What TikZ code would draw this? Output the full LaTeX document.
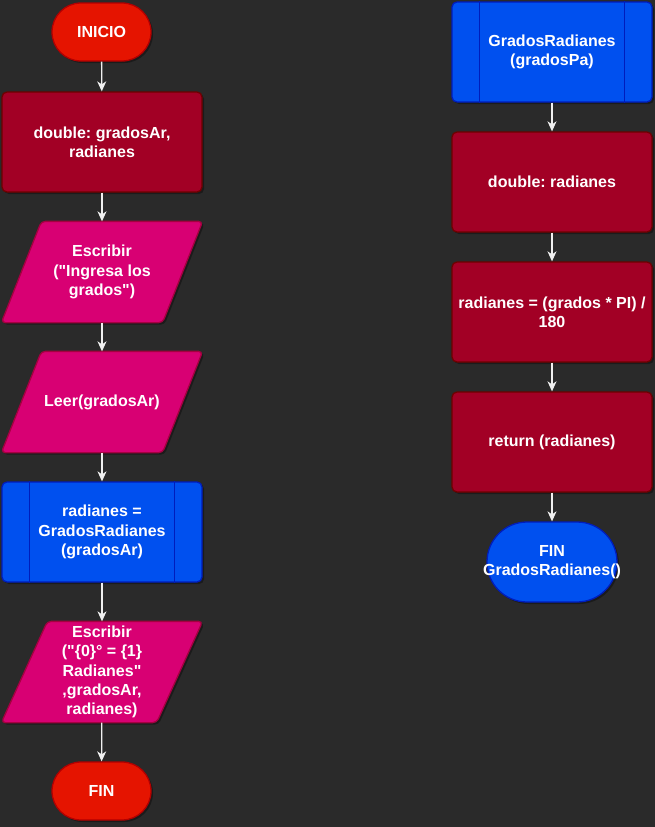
\documentclass[tikz,border=0pt]{standalone}
\usepackage{fontspec}
\setmainfont{Liberation Sans}[Ligatures=TeXOff]
\usetikzlibrary{shadows,arrows.meta}
\definecolor{bgc}{HTML}{2A2A2A}
\definecolor{termfill}{HTML}{E51400}
\definecolor{termline}{HTML}{B20000}
\definecolor{crimfill}{HTML}{A20025}
\definecolor{crimline}{HTML}{6F0000}
\definecolor{magfill}{HTML}{D80073}
\definecolor{magline}{HTML}{A50040}
\definecolor{bluefill}{HTML}{0050EF}
\definecolor{blueline}{HTML}{001DBC}
\definecolor{arrowc}{HTML}{F0F0F0}
% parallelogram outline around an input/output node: #1 node name, #2 slant
\newcommand{\iopath}[2]{%
  \draw[magline, fill=magfill, line width=1.3pt, rounded corners=4pt,
    drop shadow={shadow xshift=2pt, shadow yshift=-2pt, opacity=0.35, fill=black}]
    ([xshift=#2]#1.north west) -- (#1.north east)
    -- ([xshift=-#2]#1.south east) -- (#1.south west) -- cycle;}
\frenchspacing
\begin{document}
\begin{tikzpicture}[x=1pt,y=-1pt,
  base/.style={text=white, font=\bfseries\fontsize{16}{19.2}\selectfont,
    align=center, line width=1.3pt, inner sep=0pt},
  shade/.style={drop shadow={shadow xshift=2pt, shadow yshift=-2pt, opacity=0.35, fill=black}},
  terminal/.style={base, shade, rectangle, rounded corners=29pt,
    minimum width=99pt, minimum height=58pt, fill=termfill, draw=termline},
  procbox/.style={base, shade, rectangle, rounded corners=5pt,
    minimum width=200pt, minimum height=100pt, fill=crimfill, draw=crimline},
  iobox/.style={base, rectangle, minimum width=200pt, minimum height=100pt},
  subbox/.style={base, shade, rectangle, rounded corners=5pt,
    minimum width=200pt, minimum height=100pt, fill=bluefill, draw=blueline},
  subbar/.style={draw=blueline, line width=1.3pt},
  flow/.style={draw=arrowc, line width=1.3pt,
    -{Stealth[length=10pt,width=9pt,inset=3pt]}}
]
% background
\path[fill=bgc] (0,0) rectangle (655,827);

% main program
\node[terminal] (inicio) at (101.5,32) {INICIO};
\node[procbox] (decl) at (102,142) {double: gradosAr,\\radianes};

\path node[iobox] (pedir) at (102,272) {};
\iopath{pedir}{40pt}
\node[base] at (pedir.center) {Escribir\\("Ingresa los\\grados")};

\path node[iobox] (leer) at (102,402) {};
\iopath{leer}{40pt}
\node[base] at (leer.center) {Leer(gradosAr)};

\node[subbox] (llamada) at (102,532) {radianes =\\GradosRadianes\\(gradosAr)};
\draw[subbar] ([xshift=28pt]llamada.north west) -- ([xshift=28pt]llamada.south west);
\draw[subbar] ([xshift=-28pt]llamada.north east) -- ([xshift=-28pt]llamada.south east);

\path node[iobox] (mostrar) at (102,672) {};
\iopath{mostrar}{46pt}
\node[base] at (mostrar.center)
  {Escribir\\("\{0\}° = \{1\}\\Radianes"\\,gradosAr,\\radianes)};

\node[terminal] (fin) at (101.5,791) {FIN};

\draw[flow] (inicio) -- (decl);
\draw[flow] (decl) -- (pedir);
\draw[flow] (pedir) -- (leer);
\draw[flow] (leer) -- (llamada);
\draw[flow] (llamada) -- (mostrar);
\draw[flow] (mostrar) -- (fin);

% function GradosRadianes
\node[subbox] (func) at (552,52) {GradosRadianes\\(gradosPa)};
\draw[subbar] ([xshift=28pt]func.north west) -- ([xshift=28pt]func.south west);
\draw[subbar] ([xshift=-28pt]func.north east) -- ([xshift=-28pt]func.south east);
\node[procbox] (decl2) at (552,182) {double: radianes};
\node[procbox] (calc) at (552,312) {radianes = (grados * PI) /\\180};
\node[procbox] (ret) at (552,442) {return (radianes)};
\node[terminal, fill=bluefill, draw=blueline, rounded corners=40pt,
  minimum width=130pt, minimum height=80pt] (fin2) at (552,562)
  {FIN\\\makebox[120pt][c]{GradosRadianes()}};

\draw[flow] (func) -- (decl2);
\draw[flow] (decl2) -- (calc);
\draw[flow] (calc) -- (ret);
\draw[flow] (ret) -- (fin2);
\end{tikzpicture}
\end{document}
